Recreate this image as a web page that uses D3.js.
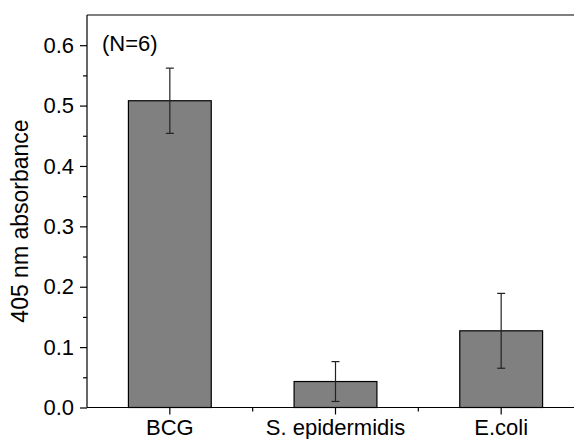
<!doctype html>
<html>
<head>
    <style>
        body { margin: 0; background: #fff; }
        svg text { font-family: Arial, "Liberation Sans", sans-serif; fill: #000; }
    </style>
    <script src="https://d3js.org/d3.v7.min.js"></script>
</head>
<body>
    <script>
        var categories = ["BCG", "S. epidermidis", "E.coli"];
        var values = [0.508, 0.043, 0.127];
        var errors = [0.054, 0.033, 0.062];
        var yTicks = [0, 0.1, 0.2, 0.3, 0.4, 0.5, 0.6];

        var width = 574, height = 439;
        var plotLeft = 87, plotTop = 15, plotBottom = 407.5, plotRight = 584;
        var font = "Arial, 'Liberation Sans', sans-serif";

        var svg = d3.select("body").append("svg")
            .attr("width", width)
            .attr("height", height);

        var x = d3.scaleBand()
            .domain(categories)
            .range([plotLeft, plotRight])
            .paddingInner(0.5)
            .paddingOuter(0.25);

        var y = d3.scaleLinear()
            .domain([0, 0.65])
            .range([plotBottom, plotTop]);

        // bars
        svg.selectAll("rect.bar")
            .data(values)
            .enter()
            .append("rect")
            .attr("class", "bar")
            .attr("x", function (d, i) { return x(categories[i]); })
            .attr("y", function (d) { return y(d); })
            .attr("width", x.bandwidth())
            .attr("height", function (d) { return y(0) - y(d); })
            .attr("fill", "#808080")
            .attr("stroke", "#000")
            .attr("stroke-width", 1.2);

        // error bars
        var eb = svg.selectAll("g.err")
            .data(values)
            .enter()
            .append("g")
            .attr("class", "err")
            .attr("stroke", "#222")
            .attr("stroke-width", 1.2);

        eb.append("line")
            .attr("x1", function (d, i) { return x(categories[i]) + x.bandwidth() / 2; })
            .attr("x2", function (d, i) { return x(categories[i]) + x.bandwidth() / 2; })
            .attr("y1", function (d, i) { return y(d + errors[i]); })
            .attr("y2", function (d, i) { return y(d - errors[i]); });

        [1, -1].forEach(function (s) {
            eb.append("line")
                .attr("x1", function (d, i) { return x(categories[i]) + x.bandwidth() / 2 - 4; })
                .attr("x2", function (d, i) { return x(categories[i]) + x.bandwidth() / 2 + 4; })
                .attr("y1", function (d, i) { return y(d + s * errors[i]); })
                .attr("y2", function (d, i) { return y(d + s * errors[i]); });
        });

        // y axis with minor ticks
        var yAxis = d3.axisLeft(y).tickValues(yTicks).tickFormat(d3.format(".1f")).tickSize(7).tickPadding(6);
        var yMinor = d3.axisLeft(y).tickValues(d3.range(0.05, 0.65, 0.1)).tickFormat("").tickSize(4);

        var gy = svg.append("g").attr("transform", "translate(" + plotLeft + ",0)").call(yAxis);
        var gyMinor = svg.append("g").attr("transform", "translate(" + plotLeft + ",0)").call(yMinor);
        gyMinor.select(".domain").remove();

        // x axis
        var centers = categories.map(function (c) { return x(c) + x.bandwidth() / 2; });
        var xAxis = d3.axisBottom(x).tickSize(7).tickPadding(5);
        var gx = svg.append("g").attr("transform", "translate(0," + plotBottom + ")").call(xAxis);

        // minor x ticks between categories
        var mids = [];
        for (var i = 0; i < centers.length - 1; i++) mids.push((centers[i] + centers[i + 1]) / 2);
        svg.selectAll("line.xminor")
            .data(mids)
            .enter()
            .append("line")
            .attr("class", "xminor")
            .attr("x1", function (d) { return d; })
            .attr("x2", function (d) { return d; })
            .attr("y1", plotBottom)
            .attr("y2", plotBottom + 4)
            .attr("stroke", "#000")
            .attr("stroke-width", 1.2);

        // top frame line
        svg.append("line")
            .attr("x1", plotLeft).attr("x2", width)
            .attr("y1", plotTop).attr("y2", plotTop)
            .attr("stroke", "#000").attr("stroke-width", 1.2);

        svg.selectAll(".tick line").attr("stroke", "#000").attr("stroke-width", 1.2);
        gy.select(".domain").attr("d", "M0," + plotBottom + "V" + plotTop).attr("stroke", "#000").attr("stroke-width", 1.2);
        gx.select(".domain").attr("d", "M" + plotLeft + ",0H" + width).attr("stroke", "#000").attr("stroke-width", 1.2);

        gy.selectAll(".tick text").attr("font-size", 22).attr("font-family", font);
        gx.selectAll(".tick text").attr("font-size", 22).attr("font-family", font);

        // y label
        svg.append("text")
            .attr("transform", "translate(28,221) rotate(-90)")
            .attr("text-anchor", "middle")
            .attr("font-size", 23)
            .text("405 nm absorbance");

        // annotation
        svg.append("text")
            .attr("x", 102)
            .attr("y", 51)
            .attr("font-size", 22)
            .text("(N=6)");
    </script>
</body>
</html>
